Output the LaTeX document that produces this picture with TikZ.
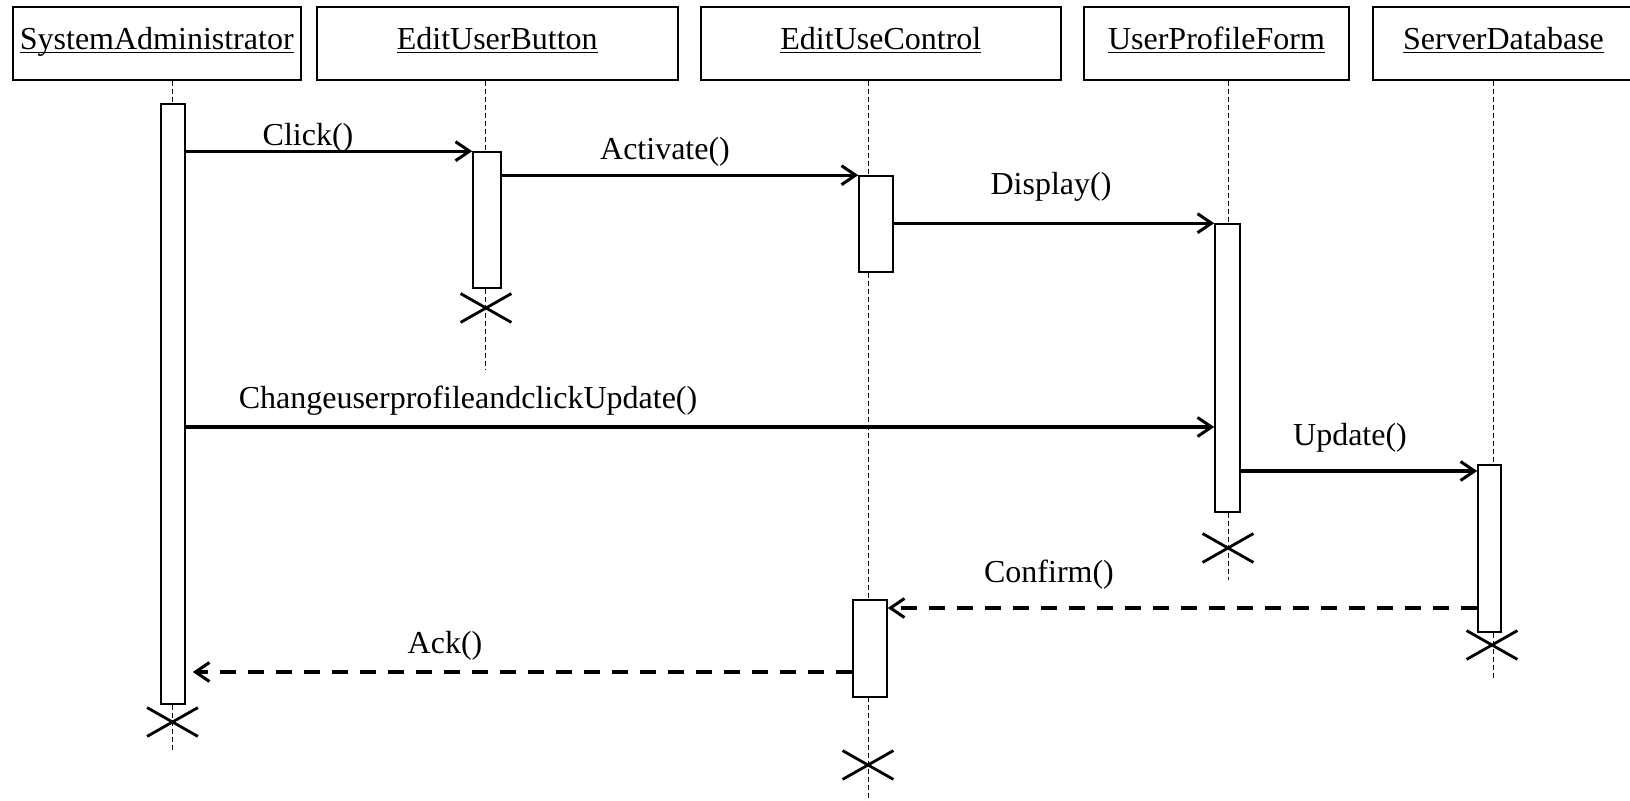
\documentclass[tikz,border=0pt]{standalone}
\usepackage{fontspec}
\setmainfont{Liberation Serif}
\usetikzlibrary{arrows.meta,shapes.misc}
\newcommand{\objname}[1]{\underline{\vphantom{x}\smash{#1}}}
\begin{document}
\begin{tikzpicture}[x=0.5pt,y=-0.5pt,
  font=\fontsize{16}{19}\selectfont,
  objbox/.style={draw, line width=1pt, inner sep=0pt, minimum height=36.25pt, text height=11pt, text depth=4.75pt},
  actbar/.style={draw, fill=white, line width=0.8pt, inner sep=0pt},
  lifeline/.style={line width=0.5pt, dash pattern=on 2.5pt off 1.5pt},
  msg/.style={line width=1.6pt, -{Straight Barb[length=7pt,width=9.5pt,line width=1.5pt]}},
  reply/.style={msg, line width=1.8pt, dash pattern=on 8pt off 6pt},
  destroy/.style={cross out, draw, line width=1.4pt, minimum width=24pt, minimum height=13pt, inner sep=0pt},
  lbl/.style={inner sep=0pt}
]
\useasboundingbox (0,0) rectangle (1630,801);

% object boxes
\node[objbox, minimum width=144.25pt] (sa)  at (156.75,43.75) {\objname{SystemAdministrator}};
\node[objbox, minimum width=180.75pt] (eub) at (497.25,43.75) {\objname{EditUserButton}};
\node[objbox, minimum width=180.15pt] (euc) at (880.85,43.75) {\objname{EditUseControl}};
\node[objbox, minimum width=132.5pt]  (upf) at (1216.5,43.75) {\objname{UserProfileForm}};
\node[objbox, minimum width=130.5pt]  (sd)  at (1503.5,43.75) {\objname{ServerDatabase}};

% lifeline ends
\coordinate (saend)  at (172.5,750);
\coordinate (eubend) at (485.5,370);
\coordinate (eucend) at (868.5,805);
\coordinate (upfend) at (1228,580);
\coordinate (sdend)  at (1493,678);

\draw[lifeline] (sa.south -| saend) -- (saend);
\draw[lifeline] (eub.south -| eubend) -- (eubend);
\draw[lifeline] (euc.south -| eucend) -- (eucend);
\draw[lifeline] (upf.south -| upfend) -- (upfend);
\draw[lifeline] (sd.south -| sdend) -- (sdend);

% activation bars
\node[actbar, minimum width=12pt, minimum height=300pt]  (sabar)  at (173,404) {};
\node[actbar, minimum width=14pt, minimum height=68pt]   (eubbar) at (487,220) {};
\node[actbar, minimum width=17pt, minimum height=48pt]   (euca)   at (876,224) {};
\node[actbar, minimum width=17pt, minimum height=48.5pt] (eucb)   at (870,648.5) {};
\node[actbar, minimum width=12.5pt, minimum height=144pt] (upfbar) at (1227.5,368) {};
\node[actbar, minimum width=11.5pt, minimum height=83.5pt] (sdbar) at (1489.5,548.5) {};

% destruction marks
\node[destroy] (sax)  at (172.5,722) {};
\node[destroy] (eubx) at (486,308) {};
\node[destroy] (upfx) at (1228,548) {};
\node[destroy] (sdx)  at (1492,645) {};
\node[destroy] (eucx) at (868,765) {};

% message heights
\coordinate (chgy) at (0,427);
\coordinate (updy) at (0,471);
\coordinate (cfy)  at (0,608);
\coordinate (acky) at (0,672);

% messages
\draw[msg] (sabar.east |- eubbar.north) -- (eubbar.north west);
\draw[msg] (eubbar.east |- euca.north) -- (euca.north west);
\draw[msg] (euca.east |- upfbar.north) -- (upfbar.north west);
\draw[msg] (sabar.east |- chgy) -- (upfbar.west |- chgy);
\draw[msg] (upfbar.east |- updy) -- (sdbar.west |- updy);
\draw[reply] (sdbar.west |- cfy) -- (eucb.east |- cfy);
\draw[reply, shorten >=3.5pt] (eucb.west |- acky) -- (sabar.east |- acky);

% labels
\node[lbl] (lclick) at (308,138) {Click()};
\node[lbl] (lact)   at (665,152) {Activate()};
\node[lbl] (ldisp)  at (1051,187) {Display()};
\node[lbl] (lchg)   at (468,401) {ChangeuserprofileandclickUpdate()};
\node[lbl] (lupd)   at (1350,438) {Update()};
\node[lbl] (lconf)  at (1049,575) {Confirm()};
\node[lbl] (lack)   at (445,646) {Ack()};
\end{tikzpicture}
\end{document}
